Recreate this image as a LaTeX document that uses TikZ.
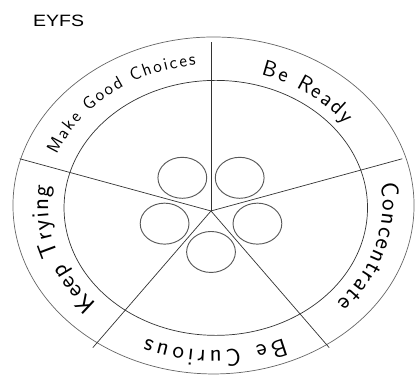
\documentclass[tikz,border=0pt]{standalone}
\usepackage{fontspec}
\newfontfamily\eyfsfont{Liberation Sans}
\usetikzlibrary{decorations.text}
\newcommand\ringfont[1]{\sffamily\fontsize{#1}{#1}\selectfont\addfontfeature{FakeBold=2}}

\begin{document}
\begin{tikzpicture}[x=0.0357cm,y=0.03cm,line width=0.6pt]
\def\rout{168.5}
\def\rin{127.5}
\def\rspoke{169}
\def\rbub{20.5}
\def\dbub{41}
\tikzset{
  rim/.style={draw=black!60},
  ring/.style={draw=black!80},
  spoke/.style={draw=black!80},
  bubble/.style={draw=black!65,line width=0.8pt},
  ring label/.style={decorate,decoration={text along path,text align={fit to path},text={#1}}}
}
\useasboundingbox (0,0) rectangle (348.7,375);
\coordinate (O) at (179.4,169.5);
\coordinate (I) at (181.3,167.1);
\coordinate (H) at (177.3,164);
\node[font=\eyfsfont\fontsize{14}{16}\selectfont,xscale=1.19,transform shape] (eyfs) at (49.2,354) {EYFS};
\path[rim] (O) circle (\rout);
\path[ring] (I) circle (\rin);
\path[spoke] (H) -- ++(90:\rspoke);
\path[spoke] (H) -- ++(18:\rspoke);
\path[spoke] (H) -- ++(-54:\rspoke);
\path[spoke] (H) -- ++(-126:\rspoke);
\path[spoke] (H) -- ++(162:\rspoke);
\path[bubble] (H) ++(54:\dbub) circle (\rbub);
\path[bubble] (H) ++(126:\dbub) circle (\rbub);
\path[bubble] (H) ++(198:\dbub) circle (\rbub);
\path[bubble] (H) ++(-18:\dbub) circle (\rbub);
\path[bubble] (H) ++(-90:\dbub) circle (\rbub);
\path[ring label={|\ringfont{15}|Make Good Choices}] (O) ++(159:141) arc[start angle=159,end angle=96,radius=141];
\path[ring label={|\ringfont{19}|Be Ready}] (O) ++(73:137) arc[start angle=73,end angle=36,radius=137];
\path[ring label={|\ringfont{21}|Concentrate}] (O) ++(9:142) arc[start angle=9,end angle=-43,radius=142];
\path[ring label={|\ringfont{21}|Be Curious}] (O) ++(-66:145) arc[start angle=-66,end angle=-113,radius=145];
\path[ring label={|\ringfont{21}|Keep Trying}] (O) ++(225:139) arc[start angle=225,end angle=172,radius=139];
\end{tikzpicture}
\end{document}
